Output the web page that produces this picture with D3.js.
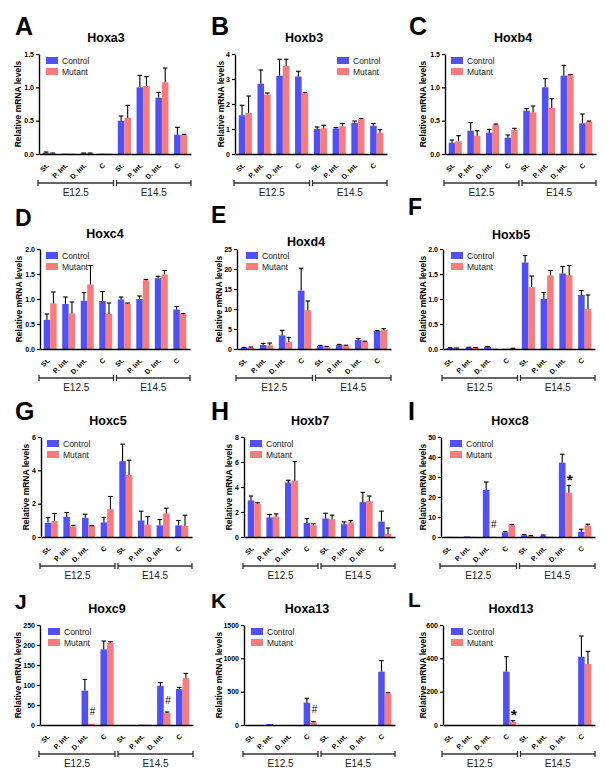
<!DOCTYPE html>
<html><head><meta charset="utf-8">
<script src="https://cdn.jsdelivr.net/npm/d3@7"></script>
<style>
body{margin:0;background:#fff}
svg{display:block}
text{font-family:"Liberation Sans",Arial,Helvetica,sans-serif}
</style>
</head><body>
<svg id="chart" width="612" height="776"></svg>
<script>
// ---------- DATA ----------
const stages = ["E12.5", "E14.5"];
const tissues = ["St.", "P. Int.", "D. Int.", "C"];
const seriesNames = ["Control", "Mutant"];
const panelLetters = ["A","B","C","D","E","F","G","H","I","J","K","L"];
const geneNames = ["Hoxa3","Hoxb3","Hoxb4","Hoxc4","Hoxd4","Hoxb5","Hoxc5","Hoxb7","Hoxc8","Hoxc9","Hoxa13","Hoxd13"];
const yMax = [1.5, 4, 1.5, 2, 25, 2, 6, 8, 50, 250, 1500, 600];
const yTickValues = [
  [0,0.5,1,1.5],[0,1,2,3,4],[0,0.5,1,1.5],[0,0.5,1,1.5,2],[0,5,10,15,20,25],[0,0.5,1,1.5,2],
  [0,2,4,6],[0,2,4,6,8],[0,10,20,30,40,50],[0,50,100,150,200,250],[0,500,1000,1500],[0,200,400,600]
];
const yTickLabels = [
  ["0.0","0.5","1.0","1.5"],["0","1","2","3","4"],["0.0","0.5","1.0","1.5"],["0.0","0.5","1.0","1.5","2.0"],
  ["0","5","10","15","20","25"],["0.0","0.5","1.0","1.5","2.0"],["0","2","4","6"],["0","2","4","6","8"],
  ["0","10","20","30","40","50"],["0","50","100","150","200","250"],["0","500","1000","1500"],["0","200","400","600"]
];
// order of each row: E12.5 St., P. Int., D. Int., C, then E14.5 St., P. Int., D. Int., C
const controlMean = [
  [0.02,0.005,0.01,0.005, 0.50,1.00,0.845,0.29],
  [1.55,2.81,3.13,3.10, 1.00,1.02,1.25,1.13],
  [0.17,0.35,0.32,0.245, 0.65,1.00,1.175,0.46],
  [0.585,0.90,0.965,0.96, 0.99,1.00,1.415,0.79],
  [0.33,1.0,3.4,14.6, 0.75,1.0,2.25,4.5],
  [0.02,0.03,0.045,0.005, 1.73,1.00,1.51,1.08],
  [0.85,1.21,1.15,0.87, 4.55,0.99,0.70,0.70],
  [2.93,1.56,4.35,1.13, 1.48,1.02,2.79,1.23],
  [0.1,0.3,23.5,2.35, 0.85,0.7,37.2,2.5],
  [0,0,86,189, 0,0.8,98,90],
  [0,15,0,335, 0,0,0,800],
  [0,0,0,320, 0,0,0,410]
];
const controlSEM = [
  [0.01,0,0.005,0, 0.07,0.18,0.08,0.11],
  [0.40,0.55,0.66,0.21, 0.08,0.04,0.07,0.09],
  [0.04,0.12,0.05,0.04, 0.03,0.13,0.155,0.14],
  [0.115,0.14,0.165,0.19, 0.05,0.06,0.04,0.06],
  [0.07,0.4,1.27,5.6, 0.15,0.15,0.35,0.1],
  [0.005,0.005,0.005,0, 0.14,0.13,0.14,0.09],
  [0.32,0.26,0.22,0.30, 1.02,0.56,0.35,0.29],
  [0.35,0.24,0.19,0.35, 0.42,0.19,0.78,0.84],
  [0,0,4.0,0.35, 0.35,0.3,4.2,1.4],
  [0,0,28,21, 0,0,8,4],
  [0,0,0,65, 0,0,0,165],
  [0,0,0,90, 0,0,0,124]
];
const mutantMean = [
  [0.01,0.005,0.01,0.005, 0.545,1.02,1.075,0.285],
  [1.64,2.38,3.52,2.44, 1.03,1.11,1.39,0.85],
  [0.19,0.275,0.44,0.36, 0.625,0.69,1.18,0.485],
  [0.91,0.71,1.29,0.70, 0.91,1.375,1.49,0.705],
  [0.33,0.9,1.75,9.7, 0.6,0.8,1.85,4.75],
  [0.015,0.025,0.01,0.01, 1.24,1.47,1.475,0.80],
  [0.95,0.64,0.66,1.67, 3.72,0.74,1.41,0.66],
  [2.68,1.64,4.51,0.94, 1.42,1.15,2.87,0.24],
  [0.1,0.1,0.2,5.9, 0.5,0.2,22.1,5.7],
  [0,0,3.3,205, 0,0.5,30,117],
  [0,0,0,40, 0,0,0,475],
  [0,0,0,20, 0,0,0,366]
];
const mutantSEM = [
  [0.005,0,0.005,0, 0.185,0.14,0.215,0.01],
  [0.68,0.06,0.27,0.02, 0.12,0.11,0.03,0.13],
  [0.085,0.075,0.01,0.025, 0.095,0.14,0.01,0.01],
  [0.23,0.23,0.38,0.22, 0.01,0.015,0.08,0.005],
  [0.17,0.6,1.15,2.3, 0.05,0.15,0.1,0.35],
  [0.005,0.005,0,0.005, 0.22,0.10,0.195,0.28],
  [0.46,0.06,0.02,0.76, 0.89,0.49,0.32,0.65],
  [0.06,0.21,1.53,0.11, 0.33,0.17,0.41,0.48],
  [0,0,0,0.3, 0.2,0,3.7,0.7],
  [0,0,0,3, 0,0,2.5,12],
  [0,0,0,10, 0,0,0,10],
  [0,0,0,6, 0,0,0,76]
];
// significance marks on the mutant bar: [panel, stage, tissue, symbol]
const sigMarks = [
  [8,0,2,"#"],[8,1,2,"*"],[9,0,2,"#"],[9,1,2,"#"],[10,0,3,"#"],[11,0,3,"*"]
];

// ---------- LAYOUT / STYLE ----------
const colors = ["#5151f3", "#f97b7b"];
const layout = [
 {l:39,t:54,r:191,b:154, lx:15,ly:35,ls:25, tx:106,ty:42, yl:21, leg:7},
 {l:235,t:54,r:387,b:154, lx:211,ly:35,ls:25, tx:304,ty:42, yl:224, leg:102},
 {l:445,t:54,r:596,b:154, lx:409,ly:35,ls:25, tx:513,ty:42, yl:426, leg:6},
 {l:40,t:249,r:190,b:349, lx:15,ly:226,ls:23, tx:105,ty:238, yl:22, leg:6},
 {l:237,t:249,r:391,b:349, lx:211,ly:223,ls:23, tx:306,ty:246, yl:222, leg:9},
 {l:443,t:249,r:595,b:349, lx:408,ly:215,ls:23, tx:511,ty:239, yl:426, leg:8},
 {l:41,t:437,r:192,b:537, lx:15,ly:420,ls:25, tx:108,ty:425, yl:29, leg:6},
 {l:244,t:437,r:395,b:537, lx:211,ly:420,ls:25, tx:310,ty:425, yl:232, leg:6},
 {l:441,t:437,r:595,b:537, lx:408,ly:420,ls:25, tx:510,ty:425, yl:426, leg:9},
 {l:40,t:625,r:193,b:725, lx:15,ly:609,ls:21, tx:107,ty:613, yl:21, leg:8},
 {l:244,t:625,r:395,b:725, lx:211,ly:608,ls:21, tx:307,ty:613, yl:222, leg:7},
 {l:443,t:625,r:595,b:725, lx:408,ly:607,ls:21, tx:511,ty:613, yl:426, leg:8}
];

const svg = d3.select("#chart");

geneNames.forEach((gene, i) => {
  const L = layout[i];
  const g = svg.append("g");
  const x = d3.scaleBand().domain(d3.range(8)).range([L.l, L.r]).paddingInner(0.3).paddingOuter(0.2);
  const xs = d3.scaleBand().domain([0, 1]).range([0, x.bandwidth()]);
  const y = d3.scaleLinear().domain([0, yMax[i]]).range([L.b, L.t]);

  const rows = d3.range(8).map(k => ({
    k,
    vals: [
      {s: 0, m: controlMean[i][k], e: controlSEM[i][k]},
      {s: 1, m: mutantMean[i][k], e: mutantSEM[i][k]}
    ]
  }));

  // bars
  const grp = g.selectAll("g.grp").data(rows).join("g").attr("class", "grp")
    .attr("transform", d => `translate(${x(d.k)},0)`);
  grp.selectAll("rect").data(d => d.vals).join("rect")
    .attr("x", d => xs(d.s))
    .attr("y", d => y(d.m))
    .attr("width", xs.bandwidth())
    .attr("height", d => L.b - y(d.m))
    .attr("fill", d => colors[d.s]);
  // error bars
  const eb = grp.selectAll("g.eb").data(d => d.vals.filter(v => v.e > 0)).join("g").attr("class", "eb");
  eb.append("line")
    .attr("x1", d => xs(d.s) + xs.bandwidth() / 2).attr("x2", d => xs(d.s) + xs.bandwidth() / 2)
    .attr("y1", d => y(d.m)).attr("y2", d => y(d.m + d.e))
    .attr("stroke", "#000").attr("stroke-width", 1.1);
  eb.append("line")
    .attr("x1", d => xs(d.s) + xs.bandwidth() / 2 - 2.3).attr("x2", d => xs(d.s) + xs.bandwidth() / 2 + 2.3)
    .attr("y1", d => y(d.m + d.e)).attr("y2", d => y(d.m + d.e))
    .attr("stroke", "#000").attr("stroke-width", 1.1);

  // y axis
  const ya = g.append("g").attr("transform", `translate(${L.l},0)`)
    .call(d3.axisLeft(y).tickValues(yTickValues[i]).tickFormat((d, j) => yTickLabels[i][j]).tickSize(3).tickSizeOuter(0).tickPadding(2));
  ya.select(".domain").attr("stroke-width", 1.4);
  ya.selectAll(".tick line").attr("stroke-width", 1.2);
  ya.selectAll(".tick text").attr("font-size", 7).attr("font-weight", "bold")
    .attr("font-family", '"Liberation Sans",Arial,sans-serif');

  // x axis
  const xa = g.append("g").attr("transform", `translate(0,${L.b})`)
    .call(d3.axisBottom(x).tickSize(0).tickSizeOuter(0).tickFormat(k => tissues[k % 4]));
  xa.select(".domain").attr("stroke-width", 1.4);
  xa.selectAll(".tick text")
    .attr("font-size", 7).attr("font-weight", "bold")
    .attr("font-family", '"Liberation Sans",Arial,sans-serif')
    .attr("text-anchor", "end")
    .attr("x", 0).attr("y", 0).attr("dy", 0)
    .attr("transform", "translate(0,12) rotate(-45)");

  // stage brackets
  const mid = (L.l + L.r) / 2;
  const by = L.b + 29;
  const segs = [[L.l - 1, mid - 1.5], [mid + 1.5, L.r]];
  segs.forEach((sg, si) => {
    const bg = g.append("g").attr("stroke", "#333").attr("stroke-width", 1.3);
    bg.append("line").attr("x1", sg[0]).attr("x2", sg[1]).attr("y1", by).attr("y2", by);
    bg.append("line").attr("x1", sg[0]).attr("x2", sg[0]).attr("y1", by - 3).attr("y2", by + 3);
    bg.append("line").attr("x1", sg[1]).attr("x2", sg[1]).attr("y1", by - 3).attr("y2", by + 3);
    g.append("text").attr("x", (sg[0] + sg[1]) / 2).attr("y", by + 12.5)
      .attr("text-anchor", "middle").attr("font-size", 10).attr("fill", "#222").text(stages[si]);
  });

  // y label
  g.append("text").attr("transform", `translate(${L.yl},${(L.t + L.b) / 2}) rotate(-90)`)
    .attr("text-anchor", "middle").attr("font-size", 8.5).attr("font-weight", "bold").text("Relative mRNA levels");

  // title & letter
  g.append("text").attr("x", L.tx).attr("y", L.ty).attr("text-anchor", "middle")
    .attr("font-size", 12.5).attr("font-weight", "bold").text(gene);
  g.append("text").attr("x", L.lx).attr("y", L.ly).attr("font-size", L.ls).attr("font-weight", "bold").text(panelLetters[i]);

  // legend
  seriesNames.forEach((nm, s) => {
    const lx = L.l + L.leg, ly = L.t + 3 + s * 11;
    g.append("rect").attr("x", lx).attr("y", ly).attr("width", 12).attr("height", 7).attr("fill", colors[s]);
    g.append("text").attr("x", lx + 16).attr("y", ly + 6.5).attr("font-size", 8.5).attr("fill", "#222").text(nm);
  });

  // significance marks
  sigMarks.filter(mk => mk[0] === i).forEach(mk => {
    const k = mk[1] * 4 + mk[2];
    const top = y(mutantMean[i][k] + mutantSEM[i][k]);
    const cx = x(k) + xs(1) + xs.bandwidth() / 2;
    if (mk[3] === "#") {
      g.append("text").attr("x", cx + 1).attr("y", top - 8.5).attr("text-anchor", "middle")
        .attr("font-size", 10).text("#");
    } else {
      g.append("text").attr("x", cx + 1).attr("y", top - 0.5).attr("text-anchor", "middle")
        .attr("font-size", 15).attr("font-weight", "bold").text("*");
    }
  });
});
</script>
</body></html>
